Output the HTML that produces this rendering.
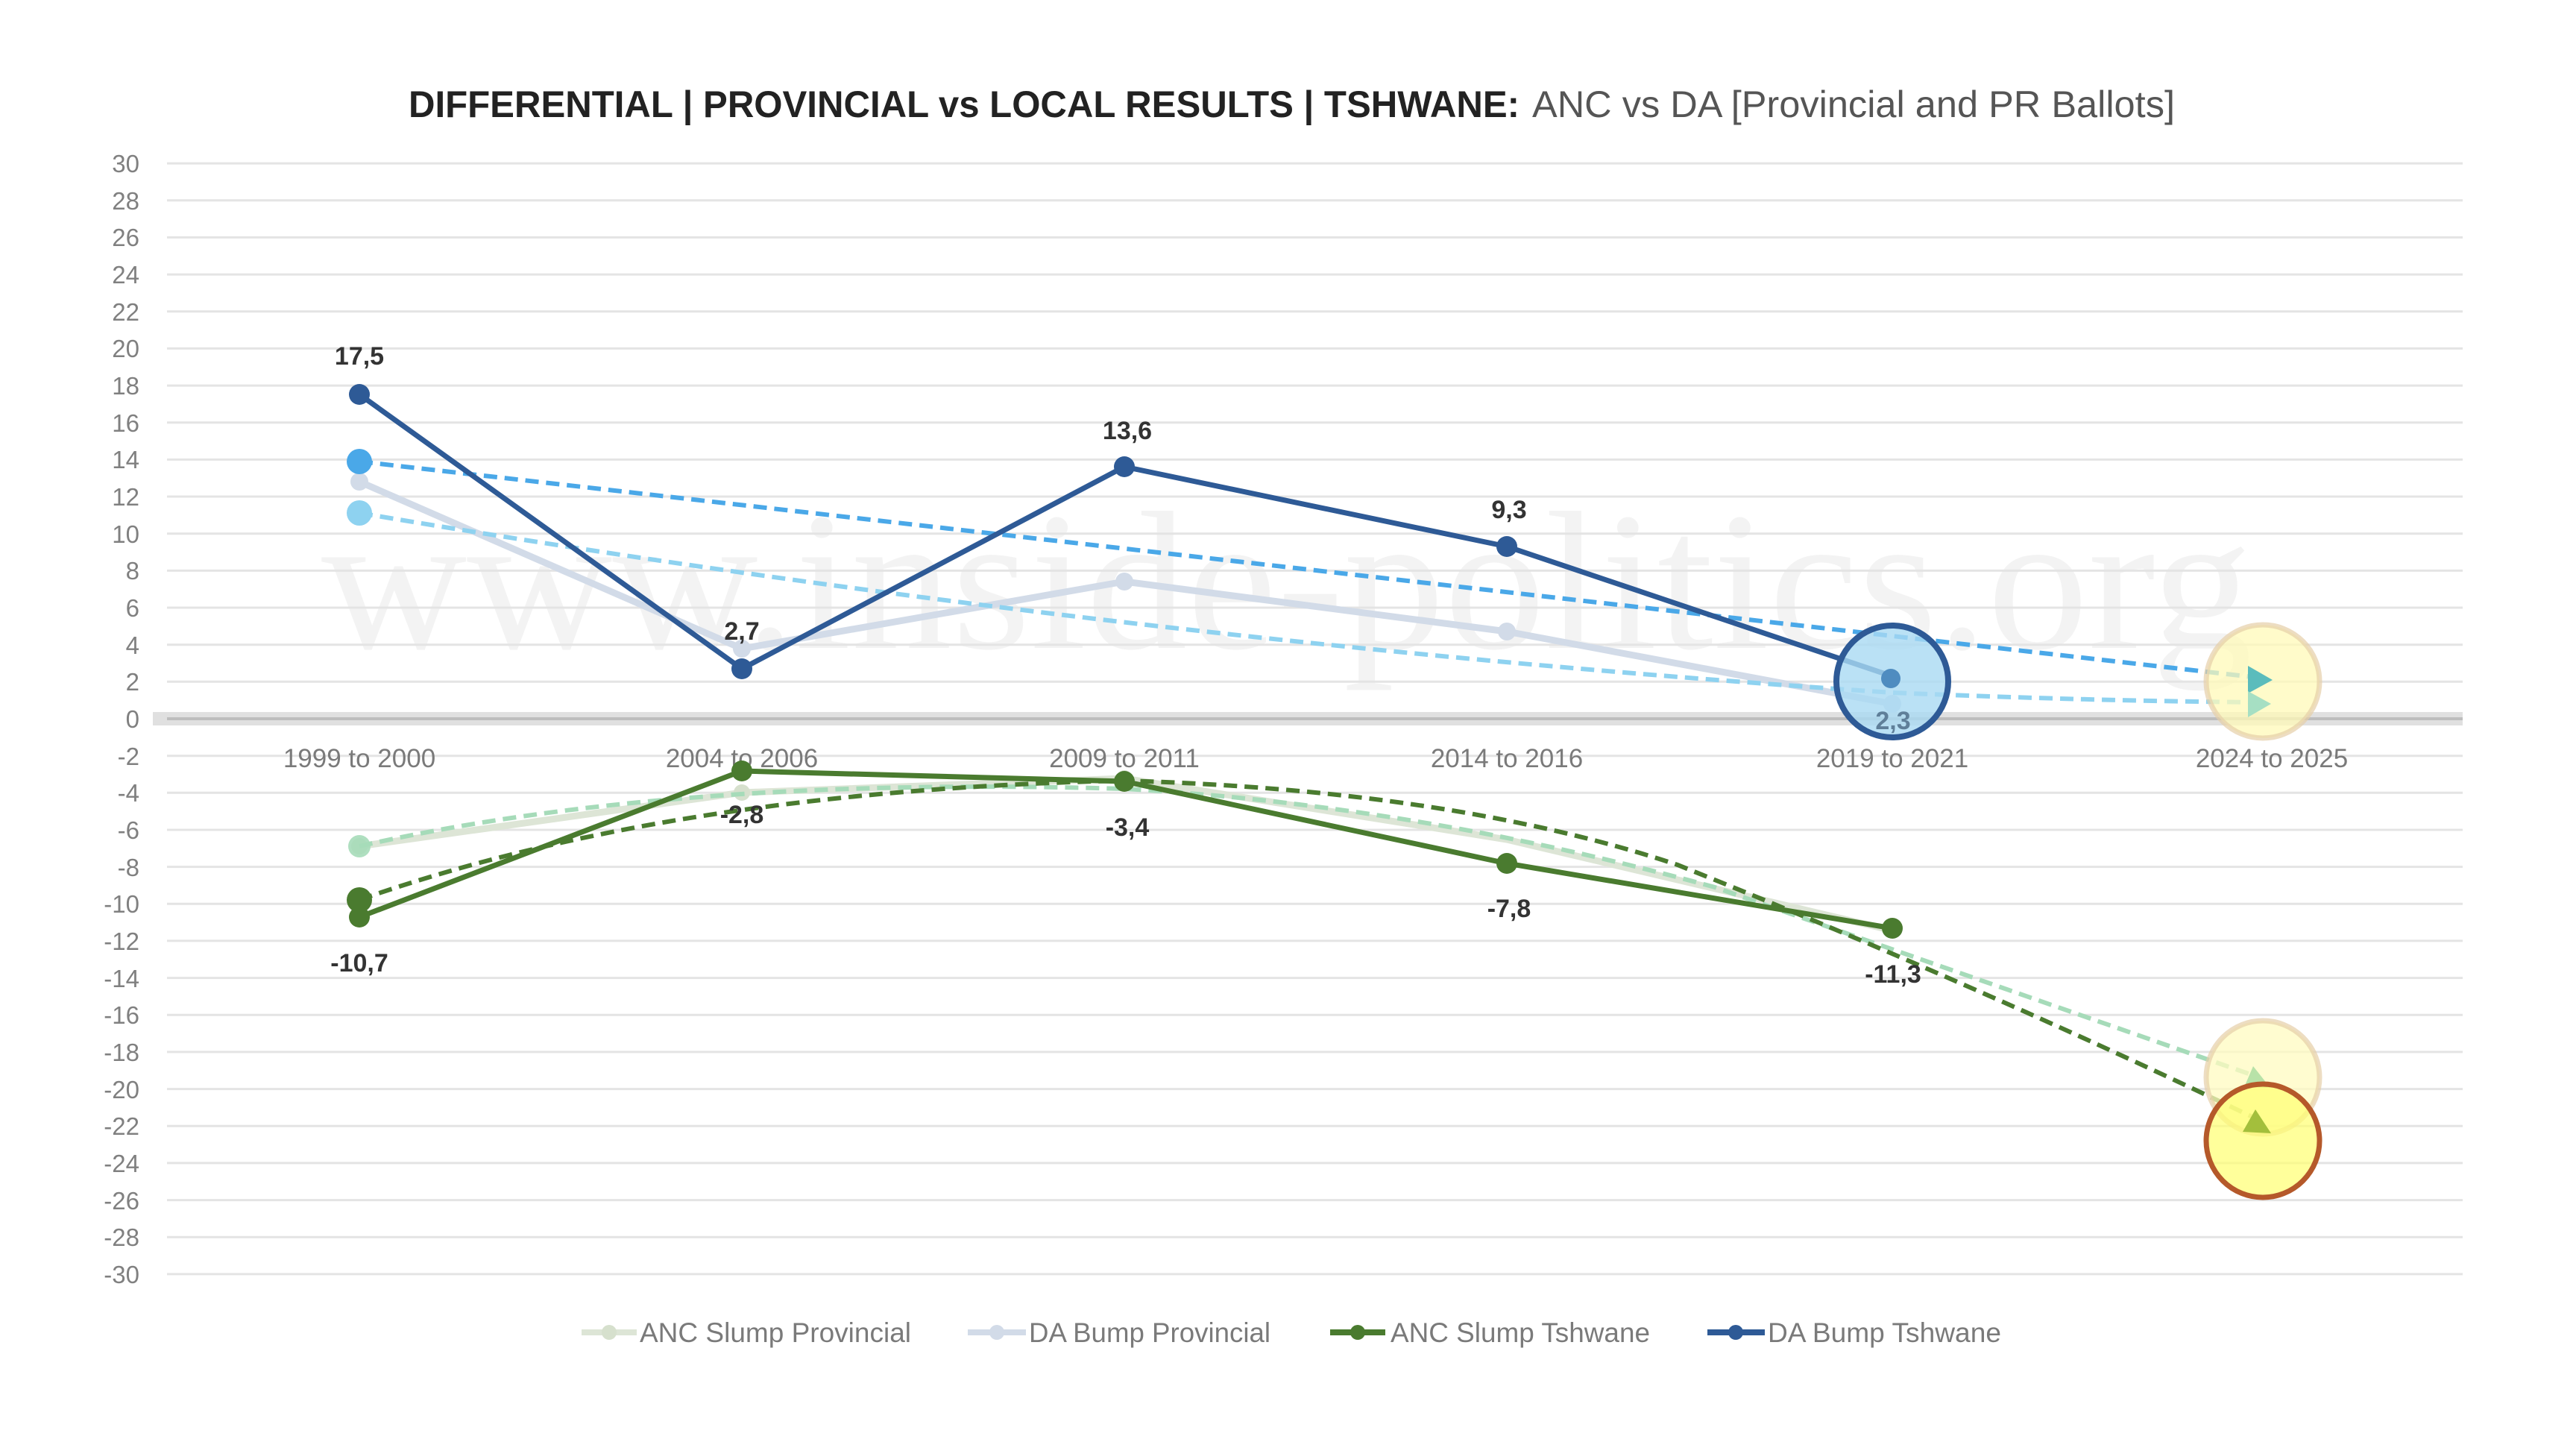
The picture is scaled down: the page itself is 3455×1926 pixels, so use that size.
<!DOCTYPE html>
<html><head><meta charset="utf-8"><style>
html,body{margin:0;padding:0;background:#fff;}
svg{display:block;}
</style></head><body>
<svg width="3455" height="1926" viewBox="0 0 3455 1926" xmlns="http://www.w3.org/2000/svg" font-family="Liberation Sans, sans-serif">
<rect width="3455" height="1926" fill="#fff"/>
<!-- title -->
<text x="548" y="157" font-size="50" font-weight="bold" fill="#222" textLength="1490" lengthAdjust="spacingAndGlyphs">DIFFERENTIAL | PROVINCIAL vs LOCAL RESULTS | TSHWANE:</text>
<text x="2055" y="157" font-size="50" fill="#555" textLength="862" lengthAdjust="spacingAndGlyphs">ANC vs DA [Provincial and PR Ballots]</text>
<!-- watermark -->
<text x="431" y="869" style="font-family:'Liberation Serif',serif" font-size="265" fill="#f3f3f3" textLength="2590" lengthAdjust="spacingAndGlyphs">www.inside-politics.org</text>
<!-- grid -->
<g stroke="#e4e4e4" stroke-width="3">
<line x1="224" x2="3303" y1="219.1" y2="219.1"/><line x1="224" x2="3303" y1="268.8" y2="268.8"/><line x1="224" x2="3303" y1="318.4" y2="318.4"/><line x1="224" x2="3303" y1="368.1" y2="368.1"/><line x1="224" x2="3303" y1="417.7" y2="417.7"/><line x1="224" x2="3303" y1="467.4" y2="467.4"/><line x1="224" x2="3303" y1="517.1" y2="517.1"/><line x1="224" x2="3303" y1="566.7" y2="566.7"/><line x1="224" x2="3303" y1="616.4" y2="616.4"/><line x1="224" x2="3303" y1="666.0" y2="666.0"/><line x1="224" x2="3303" y1="715.7" y2="715.7"/><line x1="224" x2="3303" y1="765.4" y2="765.4"/><line x1="224" x2="3303" y1="815.0" y2="815.0"/><line x1="224" x2="3303" y1="864.7" y2="864.7"/><line x1="224" x2="3303" y1="914.3" y2="914.3"/>
<line x1="224" x2="3303" y1="1013.7" y2="1013.7"/><line x1="224" x2="3303" y1="1063.3" y2="1063.3"/><line x1="224" x2="3303" y1="1113.0" y2="1113.0"/><line x1="224" x2="3303" y1="1162.6" y2="1162.6"/><line x1="224" x2="3303" y1="1212.3" y2="1212.3"/><line x1="224" x2="3303" y1="1261.9" y2="1261.9"/><line x1="224" x2="3303" y1="1311.6" y2="1311.6"/><line x1="224" x2="3303" y1="1361.3" y2="1361.3"/><line x1="224" x2="3303" y1="1410.9" y2="1410.9"/><line x1="224" x2="3303" y1="1460.6" y2="1460.6"/><line x1="224" x2="3303" y1="1510.2" y2="1510.2"/><line x1="224" x2="3303" y1="1559.9" y2="1559.9"/><line x1="224" x2="3303" y1="1609.6" y2="1609.6"/><line x1="224" x2="3303" y1="1659.2" y2="1659.2"/><line x1="224" x2="3303" y1="1708.9" y2="1708.9"/>
</g>
<rect x="205" y="955" width="3098" height="18" fill="#e0e0e0"/>
<line x1="224" x2="3303" y1="964" y2="964" stroke="#bdbdbd" stroke-width="4"/>
<!-- y labels -->
<g font-size="33" fill="#808080" text-anchor="end">
<text x="187" y="231">30</text><text x="187" y="281">28</text><text x="187" y="330">26</text><text x="187" y="380">24</text><text x="187" y="430">22</text><text x="187" y="479">20</text><text x="187" y="529">18</text><text x="187" y="579">16</text><text x="187" y="628">14</text><text x="187" y="678">12</text><text x="187" y="728">10</text><text x="187" y="777">8</text><text x="187" y="827">6</text><text x="187" y="877">4</text><text x="187" y="926">2</text><text x="187" y="976">0</text>
<text x="187" y="1026">-2</text><text x="187" y="1075">-4</text><text x="187" y="1125">-6</text><text x="187" y="1175">-8</text><text x="187" y="1224">-10</text><text x="187" y="1274">-12</text><text x="187" y="1324">-14</text><text x="187" y="1373">-16</text><text x="187" y="1423">-18</text><text x="187" y="1473">-20</text><text x="187" y="1522">-22</text><text x="187" y="1572">-24</text><text x="187" y="1622">-26</text><text x="187" y="1671">-28</text><text x="187" y="1721">-30</text>
</g>
<!-- category labels -->
<g font-size="35" fill="#7a7a7a" text-anchor="middle">
<text x="482" y="1029">1999 to 2000</text><text x="995" y="1029">2004 to 2006</text><text x="1508" y="1029">2009 to 2011</text><text x="2021" y="1029">2014 to 2016</text><text x="2538" y="1029">2019 to 2021</text><text x="3047" y="1029">2024 to 2025</text>
</g>
<!-- provincial lines -->
<polyline points="482,1135 995,1063 1508,1044 2021,1126 2538,1248" fill="none" stroke="#dde5d6" stroke-width="9"/>
<g fill="#d6e0cd"><circle cx="482" cy="1135" r="11"/><circle cx="995" cy="1063" r="11"/><circle cx="1508" cy="1044" r="11"/></g>
<polyline points="482,646 995,870 1508,780 2021,847 2538,944" fill="none" stroke="#d2dbe8" stroke-width="9"/>
<g fill="#d2dbe8"><circle cx="482" cy="646" r="12"/><circle cx="995" cy="870" r="12"/><circle cx="1508" cy="780" r="12"/><circle cx="2021" cy="847" r="12"/><circle cx="2538" cy="944" r="12"/></g>
<!-- trend dashed -->
<path d="M482,1135 Q900,1040 1508,1058 Q1900,1080 2300,1190 Q2700,1330 3030,1445" fill="none" stroke="#a6dbb9" stroke-width="6" stroke-dasharray="18,10"/>
<path d="M482,1207 Q900,1060 1508,1047 Q1950,1060 2250,1160 Q2650,1320 3025,1500" fill="none" stroke="#4a7b2f" stroke-width="6" stroke-dasharray="18,10"/>
<line x1="482" y1="619" x2="3030" y2="909" stroke="#4aa8e8" stroke-width="6" stroke-dasharray="18,10"/>
<path d="M482,688 Q1500,860 2538,929 Q2800,940 3030,942" fill="none" stroke="#8ed2f0" stroke-width="6" stroke-dasharray="18,10"/>
<circle cx="482" cy="688" r="17" fill="#8ed2f0"/>
<circle cx="482" cy="619" r="17" fill="#4aa8e8"/>
<circle cx="482" cy="1135" r="15" fill="#a6dbb9" opacity="0.9"/>
<circle cx="482" cy="1207" r="17" fill="#4a7b2f"/>
<!-- ANC Tshwane -->
<polyline points="482,1230 995,1034 1508,1048 2021,1158 2538,1245" fill="none" stroke="#4a7b2f" stroke-width="7"/>
<g fill="#4a7b2f"><circle cx="482" cy="1230" r="14"/><circle cx="995" cy="1034" r="14"/><circle cx="1508" cy="1048" r="14"/><circle cx="2021" cy="1158" r="14"/><circle cx="2538" cy="1245" r="14"/></g>
<!-- DA Tshwane -->
<polyline points="482,529 995,897 1508,626 2021,733 2538,907" fill="none" stroke="#2e5a96" stroke-width="7"/>
<g fill="#2e5a96"><circle cx="482" cy="529" r="14"/><circle cx="995" cy="897" r="14"/><circle cx="1508" cy="626" r="14"/><circle cx="2021" cy="733" r="14"/></g>
<!-- highlight circles -->
<circle cx="2538" cy="914" r="75" fill="#a9d9f2" fill-opacity="0.8" stroke="#2e5a96" stroke-width="8"/>
<circle cx="2536" cy="910" r="13" fill="#4f8cc0"/>
<circle cx="3035" cy="914" r="76" fill="#fff9b8" fill-opacity="0.75" stroke="#e5cfa8" stroke-opacity="0.7" stroke-width="7"/>
<polygon points="3015,893 3048,912 3015,930" fill="#5bbcbc"/>
<polygon points="3015,927 3046,944 3015,962" fill="#a6dfc3"/>
<circle cx="3035" cy="1445" r="76" fill="#fffbc0" fill-opacity="0.75" stroke="#e5cfa8" stroke-opacity="0.7" stroke-width="7"/>
<polygon points="3022,1430 3045,1459 3010,1458" fill="#b8e2a8"/>
<circle cx="3035" cy="1530" r="76" fill="#ffff70" fill-opacity="0.7" stroke="#b5592a" stroke-width="7"/>
<polygon points="3025,1488 3046,1520 3008,1518" fill="#a3bf3c"/>
<!-- data labels -->
<g font-size="34" font-weight="bold" fill="#333" text-anchor="middle">
<text x="482" y="489">17,5</text><text x="995" y="858">2,7</text><text x="1512" y="589">13,6</text><text x="2024" y="695">9,3</text><text x="2539" y="978" fill="#5f7f99">2,3</text>
<text x="482" y="1303">-10,7</text><text x="995" y="1104">-2,8</text><text x="1512" y="1121">-3,4</text><text x="2024" y="1230">-7,8</text><text x="2539" y="1318">-11,3</text>
</g>
<!-- legend -->
<g font-size="37" fill="#7a7a7a">
<line x1="780" x2="854" y1="1787" y2="1787" stroke="#dde5d6" stroke-width="8"/><circle cx="817" cy="1787" r="10" fill="#d6e0cd"/>
<text x="858" y="1800" textLength="364" lengthAdjust="spacingAndGlyphs">ANC Slump Provincial</text>
<line x1="1298" x2="1376" y1="1787" y2="1787" stroke="#d2dbe8" stroke-width="8"/><circle cx="1337" cy="1787" r="10" fill="#d2dbe8"/>
<text x="1380" y="1800" textLength="324" lengthAdjust="spacingAndGlyphs">DA Bump Provincial</text>
<line x1="1784" x2="1858" y1="1787" y2="1787" stroke="#4a7b2f" stroke-width="8"/><circle cx="1821" cy="1787" r="10" fill="#4a7b2f"/>
<text x="1865" y="1800" textLength="348" lengthAdjust="spacingAndGlyphs">ANC Slump Tshwane</text>
<line x1="2290" x2="2367" y1="1787" y2="1787" stroke="#2e5a96" stroke-width="8"/><circle cx="2328" cy="1787" r="10" fill="#2e5a96"/>
<text x="2371" y="1800" textLength="313" lengthAdjust="spacingAndGlyphs">DA Bump Tshwane</text>
</g>
</svg>
</body></html>
